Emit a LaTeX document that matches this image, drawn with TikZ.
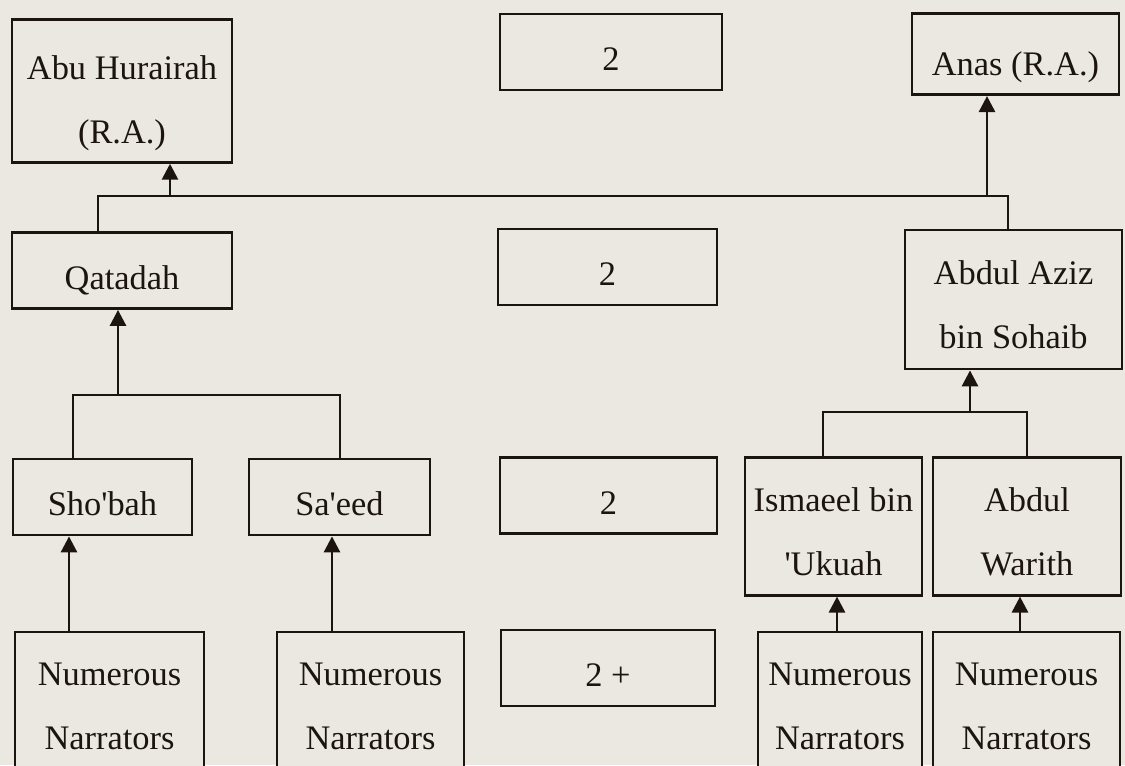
\documentclass[tikz,border=0pt]{standalone}
\usepackage{fontspec}
\setmainfont{Liberation Serif}
\usetikzlibrary{arrows.meta}
\definecolor{paper}{RGB}{235,232,226}
\definecolor{ink}{RGB}{28,20,17}
% centred lines of a box, pushed a little below the middle of the box
\newcommand\boxlines[2][9pt]{\raisebox{0pt}[\dimexpr\height+#1\relax][\depth]{\begin{tabular}{@{}c@{}}#2\end{tabular}}}
\begin{document}
\begin{tikzpicture}[x=0.75pt,y=-0.75pt,
  box/.style={draw=ink, line width=2.1pt, fill=paper, inner sep=0pt,
    text=ink, font=\fontsize{25.8}{48}\selectfont},
  sz/.style 2 args={minimum width={#1*0.75pt}, minimum height={#2*0.75pt}},
  link/.style={draw=ink, line width=2.1pt},
  arr/.style={link, -{Triangle[width=12pt,length=12pt]}}
]
\fill[paper] (0,0) rectangle (1125,765);
\useasboundingbox (0,0) rectangle (1125,765);
\clip (0,0) rectangle (1125,765);

% top row
\node[box, sz={220}{142}] (abu)   at (122,91)     {\boxlines[11pt]{Abu Hurairah\\(R.A.)}};
\node[box, sz={222}{76}]  (top2)  at (611,52)     {\boxlines{2}};
\node[box, sz={207}{76}]  (anas)  at (1015.5,54)  {\boxlines[13pt]{Anas (R.A.)}};

% second row
\node[box, sz={220}{75}]  (qat)   at (122,270.5)  {\boxlines{Qatadah}};
\node[box, sz={219}{76}]  (mid2)  at (607.5,267)  {\boxlines{2}};
\node[box, sz={217}{139}] (aziz)  at (1013.5,299.5) {\boxlines[7pt]{Abdul Aziz\\bin Sohaib}};

% third row
\node[box, sz={179}{74}]  (shobah)  at (102.5,497)  {\boxlines{Sho\textquotesingle bah}};
\node[box, sz={181}{74}]  (saeed)   at (339.5,497)  {\boxlines{Sa\textquotesingle eed}};
\node[box, sz={217}{75}]  (low2)    at (608.5,495.5) {\boxlines{2}};
\node[box, sz={177}{137}] (ismaeel) at (833.5,526.5) {\boxlines[7pt]{Ismaeel bin\\\textquotesingle Ukuah}};
\node[box, sz={188}{137}] (warith)  at (1027,526.5)  {\boxlines[7pt]{Abdul\\Warith}};

% bottom row
\node[box, sz={189}{146}] (num1)  at (109.5,705)  {\boxlines[0pt]{Numerous\\Narrators}};
\node[box, sz={187}{146}] (num2)  at (370.5,705)  {\boxlines[0pt]{Numerous\\Narrators}};
\node[box, sz={214}{74}]  (plus2) at (608,668)    {\boxlines{2 +}};
\node[box, sz={164}{146}] (num3)  at (840,705)    {\boxlines[0pt]{Numerous\\Narrators}};
\node[box, sz={187}{146}] (num4)  at (1026.5,705) {\boxlines[0pt]{Numerous\\Narrators}};

% long bus joining Qatadah and Abdul Aziz to the two companions
\coordinate (busL) at (98,196);
\coordinate (busR) at (1008,196);
\coordinate (tapAbu) at (170,196);
\coordinate (tapAnas) at (987,196);
\draw[link] (qat.north -| busL) -- (busL) -- (busR) -- (aziz.north -| busR);
\draw[arr] (tapAbu) -- (tapAbu |- abu.south);
\draw[arr] (tapAnas) -- (tapAnas |- anas.south);

% Sho'bah and Sa'eed to Qatadah
\coordinate (busQL) at (73,395);
\coordinate (busQR) at (340,395);
\coordinate (tapQat) at (118,395);
\draw[link] (shobah.north -| busQL) -- (busQL) -- (busQR) -- (saeed.north -| busQR);
\draw[arr] (tapQat) -- (tapQat |- qat.south);

% Ismaeel and Abdul Warith to Abdul Aziz
\coordinate (busAL) at (823,412);
\coordinate (busAR) at (1027,412);
\coordinate (tapAziz) at (970,412);
\draw[link] (ismaeel.north -| busAL) -- (busAL) -- (busAR) -- (warith.north -| busAR);
\draw[arr] (tapAziz) -- (tapAziz |- aziz.south);

% narrators to the third row
\coordinate (colA) at (69,0);
\coordinate (colB) at (332,0);
\coordinate (colC) at (837,0);
\coordinate (colD) at (1020,0);
\draw[arr] (num1.north -| colA) -- (shobah.south -| colA);
\draw[arr] (num2.north -| colB) -- (saeed.south -| colB);
\draw[arr] (num3.north -| colC) -- (ismaeel.south -| colC);
\draw[arr] (num4.north -| colD) -- (warith.south -| colD);
\end{tikzpicture}
\end{document}
